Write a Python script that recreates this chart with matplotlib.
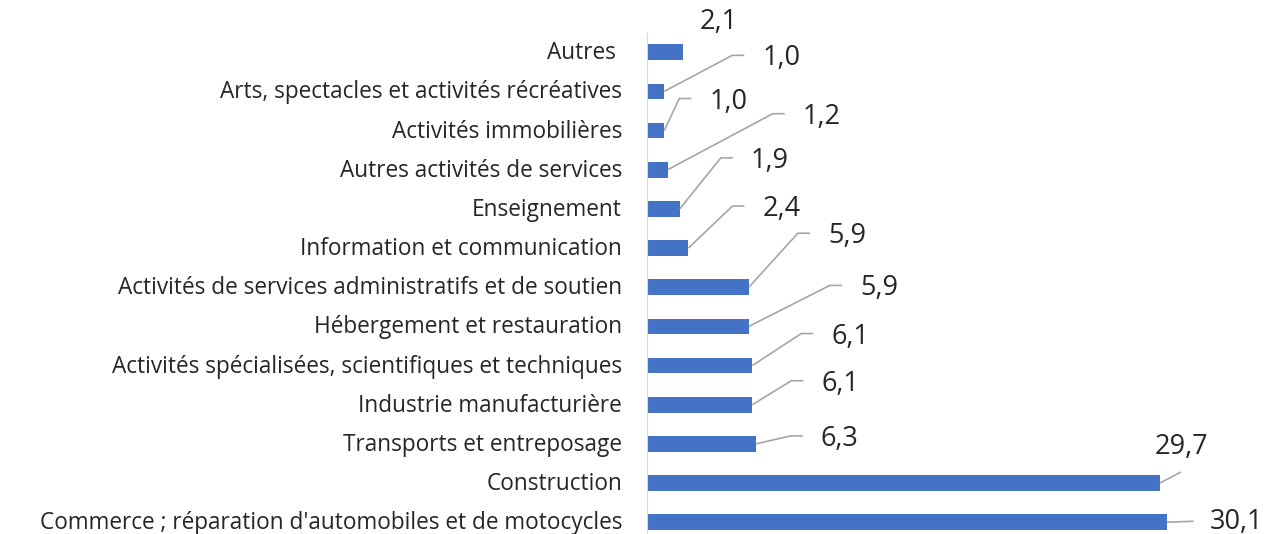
import matplotlib
matplotlib.use('Agg')
import matplotlib.pyplot as plt
import matplotlib.transforms as mtransforms

# Data (bottom to top)
categories = [
    "Commerce ; réparation d'automobiles et de motocycles",
    'Construction',
    'Transports et entreposage',
    'Industrie manufacturière',
    'Activités spécialisées, scientifiques et techniques',
    'Hébergement et restauration',
    'Activités de services administratifs et de soutien',
    'Information et communication',
    'Enseignement',
    'Autres activités de services',
    'Activités immobilières',
    'Arts, spectacles et activités récréatives',
    'Autres ',
]
values = [30.1, 29.7, 6.3, 6.1, 6.1, 5.9, 5.9, 2.4, 1.9, 1.2, 1.0, 1.0, 2.1]

# Layout: label offsets from bar end, in pixels (x right, y down)
label_offsets = [(70, 0), (22, -36), (84, -5), (88, -21), (98, -29), (130, -38),
                 (98, -51), (93, -39), (90, -48), (154, -53), (64, -29), (117, -33),
                 (35, -30)]
# leader line points (start of horizontal segment, end), None = no leader
leaders = [((27, -1), (27, -1)), ((21, -11), (21, -11))] + \
          [((dx - 49, dy - 3), (dx - 37, dy - 3)) for dx, dy in label_offsets[2:12]] + [None]

plt.rcParams['font.family'] = ['Open Sans', 'DejaVu Sans']

fig = plt.figure(figsize=(12.68, 5.34), dpi=100)
ax = fig.add_axes([647 / 1268, 0.0, 1 - 647 / 1268 - 15 / 1268, 501.4 / 534])

y = list(range(len(categories)))
ax.barh(y, values, height=0.4, color='#4472C4')
ax.set_xlim(0, 35.1)
ax.set_ylim(-0.3, 12.5)
ax.set_yticks(y)
ax.set_yticklabels(categories, fontsize=16.3, color='#262626')
ax.tick_params(axis='y', length=0, pad=18)
ax.set_xticks([])
for s in ['top', 'right', 'bottom']:
    ax.spines[s].set_visible(False)
ax.spines['left'].set_color('#D9D9D9')

# nudge tick labels up a little so descenders stay inside the figure
shift = mtransforms.ScaledTranslation(0, 2 / 100, fig.dpi_scale_trans)
for lab in ax.get_yticklabels():
    lab.set_transform(lab.get_transform() + shift)

fig.canvas.draw()
inv = ax.transData.inverted()


def to_data(base, off):
    return inv.transform((base[0] + off[0], base[1] - off[1]))


for i, v in enumerate(values):
    base = ax.transData.transform((v, i))
    tx, ty = to_data(base, label_offsets[i])
    ax.text(tx, ty, f'{v:.1f}'.replace('.', ','), ha='center', va='center',
            fontsize=19.5, color='#262626', clip_on=False)
    if leaders[i] is not None:
        p1 = to_data(base, leaders[i][0])
        p2 = to_data(base, leaders[i][1])
        ax.plot([v, p1[0], p2[0]], [i, p1[1], p2[1]], color='#A6A6A6',
                lw=1.2, clip_on=False, solid_capstyle='butt')

fig.savefig('out.png', dpi=100)
